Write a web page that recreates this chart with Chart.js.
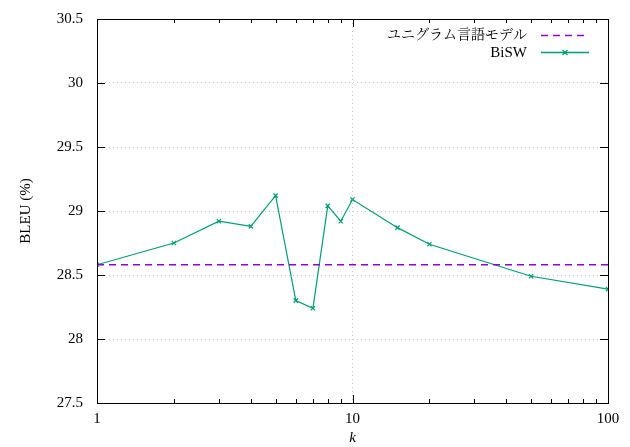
<!DOCTYPE html>
<html><head><meta charset="utf-8">
<script src="https://cdn.jsdelivr.net/npm/chart.js@4/dist/chart.umd.min.js"></script>
<style>html,body{margin:0;padding:0;background:#fff}#wrap{width:630px;height:447px}</style>
</head><body><div id="wrap"><canvas id="c" width="630" height="447"></canvas></div>
<script>
const kValues = [1, 2, 3, 4, 5, 6, 7, 8, 9, 10, 15, 20, 50, 100];
const bisw = [28.58, 28.75, 28.92, 28.88, 29.12, 28.30, 28.24, 29.04, 28.92, 29.09, 28.87, 28.74, 28.49, 28.39];
const unigramBLEU = 28.58;
const xTicks = [1, 10, 100];
const xMinorTicks = [2,3,4,5,6,7,8,9,20,30,40,50,60,70,80,90];
const yTicks = [27.5, 28, 28.5, 29, 29.5, 30, 30.5];
const labels = ['ユニグラム言語モデル', 'BiSW'];

const SERIF = '"Liberation Serif", "Noto Serif CJK JP", "Noto Sans CJK JP", serif';
const PURPLE = '#9400d3';
const GREEN = '#009e73';

const frame = {
  id: 'frame',
  afterDraw(chart) {
    const {ctx, chartArea: a, scales: {x, y}} = chart;
    ctx.save();
    ctx.strokeStyle = '#000';
    ctx.lineWidth = 1;
    ctx.beginPath();
    yTicks.forEach(v => {
      const py = Math.round(y.getPixelForValue(v)) + 0.5;
      ctx.moveTo(a.left, py); ctx.lineTo(a.left + 8, py);
      ctx.moveTo(a.right, py); ctx.lineTo(a.right - 8, py);
    });
    xTicks.forEach(v => {
      const px = Math.round(x.getPixelForValue(v)) + 0.5;
      ctx.moveTo(px, a.bottom); ctx.lineTo(px, a.bottom - 8);
      ctx.moveTo(px, a.top); ctx.lineTo(px, a.top + 8);
    });
    xMinorTicks.forEach(v => {
      const px = Math.round(x.getPixelForValue(v)) + 0.5;
      ctx.moveTo(px, a.bottom); ctx.lineTo(px, a.bottom - 4);
      ctx.moveTo(px, a.top); ctx.lineTo(px, a.top + 4);
    });
    ctx.stroke();
    ctx.strokeRect(Math.round(a.left) + 0.5, Math.round(a.top) + 0.5, Math.round(a.right - a.left), Math.round(a.bottom - a.top));

    // legend (gnuplot style)
    ctx.fillStyle = '#000';
    ctx.textAlign = 'right';
    ctx.textBaseline = 'middle';
    const tx = 527, lx0 = 541, lx1 = 589;
    const y1 = 35, y2 = 52;
    ctx.font = '14px ' + SERIF;
    ctx.fillText(labels[0], tx, y1);
    ctx.font = '15px ' + SERIF;
    ctx.fillText(labels[1], tx, y2 + 1);
    ctx.lineWidth = 1.3;
    ctx.strokeStyle = PURPLE;
    ctx.setLineDash([7, 5]);
    ctx.beginPath(); ctx.moveTo(lx0, y1 + 0.5); ctx.lineTo(lx1, y1 + 0.5); ctx.stroke();
    ctx.setLineDash([]);
    ctx.strokeStyle = GREEN;
    ctx.beginPath(); ctx.moveTo(lx0, y2 + 0.5); ctx.lineTo(lx1, y2 + 0.5); ctx.stroke();
    const mx = (lx0 + lx1) / 2, my = y2 + 0.5, r = 2.5;
    ctx.beginPath();
    ctx.moveTo(mx - r, my - r); ctx.lineTo(mx + r, my + r);
    ctx.moveTo(mx - r, my + r); ctx.lineTo(mx + r, my - r);
    ctx.stroke();
    ctx.restore();
  }
};

new Chart(document.getElementById('c'), {
  type: 'line',
  data: {
    datasets: [
      {
        label: labels[0],
        data: [{x: kValues[0], y: unigramBLEU}, {x: kValues[kValues.length - 1], y: unigramBLEU}],
        borderColor: PURPLE, borderWidth: 1.3, borderDash: [7, 5],
        pointRadius: 0, fill: false, tension: 0
      },
      {
        label: labels[1],
        data: kValues.map((k, i) => ({x: k, y: bisw[i]})),
        borderColor: GREEN, backgroundColor: GREEN, borderWidth: 1.2,
        pointStyle: 'crossRot', pointRadius: 3, pointBorderWidth: 1.2,
        fill: false, tension: 0
      }
    ]
  },
  options: {
    responsive: false, animation: false, devicePixelRatio: 1,
    layout: {padding: {top: 19, right: 22, left: 0, bottom: 0}},
    plugins: {legend: {display: false}, tooltip: {enabled: false}},
    scales: {
      x: {
        type: 'logarithmic', min: 1, max: 100,
        afterBuildTicks(s) { s.ticks = xTicks.map(v => ({value: v})); },
        afterFit(s) { s.height = 44; s.paddingLeft = 0; s.paddingRight = 0; },
        grid: {drawTicks: false, color: '#c8c8c8', lineWidth: 1},
        border: {display: false, dash: [1, 3]},
        ticks: {padding: 7, color: '#000', font: {family: SERIF, size: 15}, callback: v => String(v), maxRotation: 0, autoSkip: false},
        title: {display: true, text: 'k', color: '#000', font: {family: SERIF, size: 15, style: 'italic'}, padding: {top: 6, bottom: 0}}
      },
      y: {
        min: 27.5, max: 30.5,
        afterBuildTicks(s) { s.ticks = yTicks.map(v => ({value: v})); },
        afterFit(s) { s.width = 97; s.paddingTop = 0; s.paddingBottom = 0; },
        grid: {drawTicks: false, color: '#c8c8c8', lineWidth: 1},
        border: {display: false, dash: [1, 3]},
        ticks: {padding: 14, color: '#000', font: {family: SERIF, size: 15}, callback: v => String(v), autoSkip: false},
        title: {display: true, text: 'BLEU (%)', color: '#000', font: {family: SERIF, size: 15}, padding: {top: 17, bottom: 0}}
      }
    }
  },
  plugins: [frame]
});
</script></body></html>
